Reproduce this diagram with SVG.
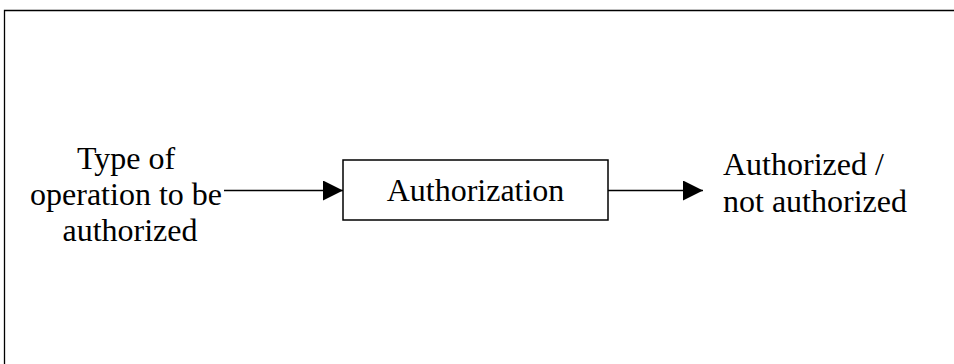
<svg xmlns="http://www.w3.org/2000/svg" width="954" height="364" viewBox="0 0 954 364">
  <style>
    .label { font-family: "Liberation Serif", "Times New Roman", serif; font-size: 32px; fill: #000; }
    .frame { fill: none; stroke: #000; stroke-width: 1.3; }
    .box { fill: #fff; stroke: #000; stroke-width: 1.5; }
    .flow { fill: none; stroke: #000; stroke-width: 1.5; }
  </style>
  <defs>
    <marker id="arrow" markerUnits="userSpaceOnUse" markerWidth="20" markerHeight="20" refX="20" refY="10" orient="auto">
      <path d="M0,0 L20,10 L0,20 Z" fill="#000"/>
    </marker>
  </defs>

  <rect width="954" height="364" fill="#fff"/>

  <!-- open page frame: left and top edges only -->
  <polyline class="frame" points="4.5,364 4.5,10.5 954,10.5"/>

  <g id="input">
    <text class="label" text-anchor="middle">
      <tspan x="130" y="169">Type of</tspan>
      <tspan x="130" y="205">operation to be</tspan>
      <tspan x="130" y="241">authorized</tspan>
    </text>
  </g>

  <g id="authorization">
    <rect class="box" x="343" y="160" width="265" height="60"/>
    <text class="label" x="475.5" y="201" text-anchor="middle">Authorization</text>
  </g>

  <g id="output">
    <text class="label">
      <tspan x="723" y="175">Authorized /</tspan>
      <tspan x="723" y="212">not authorized</tspan>
    </text>
  </g>

  <g id="connectors">
    <line class="flow" x1="224" y1="190.5" x2="343" y2="190.5" marker-end="url(#arrow)"/>
    <line class="flow" x1="608" y1="190.5" x2="703" y2="190.5" marker-end="url(#arrow)"/>
  </g>
</svg>
